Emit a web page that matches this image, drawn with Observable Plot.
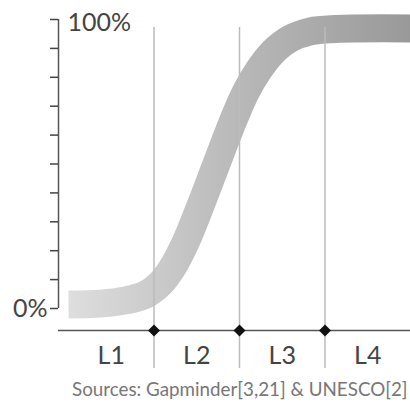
<!DOCTYPE html>
<html><head><meta charset="utf-8">
<script src="https://cdn.jsdelivr.net/npm/d3@7"></script>
<script src="https://cdn.jsdelivr.net/npm/@observablehq/plot@0.6"></script>
<style>
body{margin:0;background:#fff;font-family:Lato,sans-serif;}
#wrap{position:relative;width:410px;height:407px;}
#caption{position:absolute;left:72px;top:378px;font-size:18.8px;line-height:1.2;color:#777;white-space:nowrap;font-family:Lato,sans-serif;}
</style></head><body>
<div id="wrap"><div id="chart"></div><div id="caption">Sources: Gapminder[3,21] &amp; UNESCO[2]</div></div>
<script>
// Level categories and their boundaries (x in "level" units)
const levels = ["L1", "L2", "L3", "L4"];
const levelCenters = [0.5, 1.5, 2.5, 3.5];
const boundaries = [1, 2, 3];
// S-curve (x in level units, y in percent)
const curveX = [0, 0.374, 0.667, 0.901, 1.076, 1.216, 1.368, 1.544, 1.719, 1.918, 2.07, 2.222, 2.386, 2.596, 2.83, 3.123, 4];
const curveY = [1.4, 1.7, 2.8, 4.8, 8.7, 14.2, 22.8, 35.6, 49.1, 64.4, 74.7, 82.4, 88.6, 93.4, 95.9, 96.7, 96.9];
// y ticks
const yTicks = [0, 10, 20, 30, 40, 50, 60, 70, 80, 90, 100];
const yLabelBottom = "0%";
const yLabelTop = "100%";

const curve = curveX.map((x, i) => ({x, y: curveY[i]}));
const xDomain = [-0.117, 4];

const svg = Plot.plot({
  width: 410,
  height: 375,
  marginTop: 19,
  marginBottom: 67,
  marginLeft: 58,
  marginRight: 0,
  style: {fontFamily: "Lato, sans-serif", background: "white", overflow: "visible"},
  x: {domain: xDomain, axis: null},
  y: {domain: [0, 100], axis: null},
  marks: [
    Plot.line(curve, {x: "x", y: "y", stroke: "url(#bandGrad)", strokeWidth: 28, curve: "catmull-rom", strokeLinecap: "butt"}),
    Plot.ruleX(boundaries, {stroke: "#bbb", strokeWidth: 1.5, insetTop: 8, insetBottom: -60}),
    Plot.ruleX([xDomain[0]], {stroke: "#555", strokeWidth: 1.5}),
    Plot.axisY(yTicks, {tickSize: 8, tickPadding: 3, tickFormat: d => d === 0 ? yLabelBottom : "", fontSize: 25, color: "#444", strokeWidth: 1.5, label: null}),
    Plot.text([yLabelTop], {x: 0, y: 100, textAnchor: "start", dx: -1, dy: 3, fontSize: 25, fill: "#444"}),
    Plot.ruleY([0], {dy: 22, stroke: "#555", strokeWidth: 1.5}),
    Plot.dot(boundaries, {x: d => d, y: 0, dy: 22, symbol: "diamond2", r: 5.4, fill: "#111", stroke: "none"}),
    Plot.text(levels, {x: (d, i) => levelCenters[i], y: 0, dy: 47, fontSize: 25, fill: "#444"})
  ]
});

const ns = "http://www.w3.org/2000/svg";
const defs = document.createElementNS(ns, "defs");
const grad = document.createElementNS(ns, "linearGradient");
grad.setAttribute("id", "bandGrad");
grad.setAttribute("x1", "0"); grad.setAttribute("x2", "1");
grad.setAttribute("y1", "0"); grad.setAttribute("y2", "0");
[["0%", "#dedede"], ["50%", "#b8b8b8"], ["100%", "#999"]].forEach(([o, c]) => {
  const s = document.createElementNS(ns, "stop");
  s.setAttribute("offset", o); s.setAttribute("stop-color", c);
  grad.appendChild(s);
});
defs.appendChild(grad);
svg.insertBefore(defs, svg.firstChild);
document.getElementById("chart").appendChild(svg);
</script>
</body></html>
